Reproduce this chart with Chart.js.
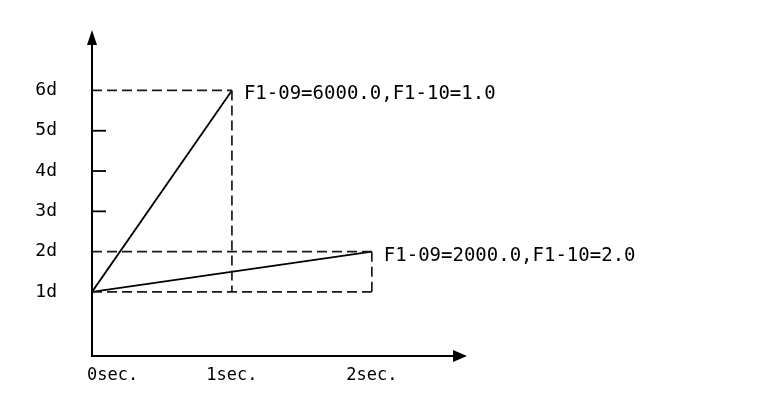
<!DOCTYPE html>
<html lang="en">
<head>
  <meta charset="UTF-8" />
  <title>F1-09 / F1-10</title>
  <script src="https://cdn.jsdelivr.net/npm/chart.js@4"></script>
  <style>
    html, body { margin: 0; padding: 0; background: #fff; }
    #wrap { width: 770px; height: 401px; }
  </style>
</head>
<body>
  <div id="wrap"><canvas id="chart" width="770" height="401"></canvas></div>

  <script>
    // axes: time in sec., output in multiples of d
    const xTicks = [0, 1, 2];
    const xTickLabels = ['0sec.', '1sec.', '2sec.'];
    const yTicks = [1, 2, 3, 4, 5, 6];
    const yTickLabels = ['1d', '2d', '3d', '4d', '5d', '6d'];

    // the two curves (start, end)
    const curve1Time = [0, 1];
    const curve1Value = [1, 6];
    const curve2Time = [0, 2];
    const curve2Value = [1, 2];
    const curveNotes = ['F1-09=6000.0,F1-10=1.0', 'F1-09=2000.0,F1-10=2.0'];

    const FONT = '"DejaVu Sans Mono", "Liberation Mono", monospace';

    const toPoints = (ts, vs) => ts.map((t, i) => ({ x: t, y: vs[i] }));
    const curves = [toPoints(curve1Time, curve1Value), toPoints(curve2Time, curve2Value)];
    const baseValue = curve1Value[0];

    // dashed helper lines from each end point back to the axes / base level
    const guides = [];
    const guideValues = [baseValue];
    curves.forEach(c => {
      const end = c[c.length - 1];
      guides.push([{ x: 0, y: end.y }, { x: end.x, y: end.y }]);
      guides.push([{ x: end.x, y: end.y }, { x: end.x, y: baseValue }]);
      guideValues.push(end.y);
    });
    guides.push([{ x: 0, y: baseValue }, { x: Math.max(...curve2Time), y: baseValue }]);

    const datasets = [];
    guides.forEach(g => datasets.push({
      data: g, showLine: true, borderColor: '#1a1a1a', borderWidth: 1.7,
      borderDash: [10, 5], pointRadius: 0
    }));
    curves.forEach(c => datasets.push({
      data: c, showLine: true, borderColor: '#000', borderWidth: 1.8, pointRadius: 0
    }));

    const axisPlugin = {
      id: 'axisPlugin',
      afterDatasetsDraw(chart) {
        const { ctx, chartArea: a, scales: { x, y } } = chart;
        ctx.save();
        ctx.strokeStyle = '#000';
        ctx.fillStyle = '#000';

        // axis lines with arrow heads
        ctx.lineWidth = 2;
        ctx.beginPath();
        ctx.moveTo(a.left, a.top + 10);
        ctx.lineTo(a.left, a.bottom);
        ctx.lineTo(a.right - 10, a.bottom);
        ctx.stroke();
        ctx.beginPath();
        ctx.moveTo(a.left, a.top);
        ctx.lineTo(a.left - 5, a.top + 15);
        ctx.lineTo(a.left + 5, a.top + 15);
        ctx.closePath();
        ctx.fill();
        ctx.beginPath();
        ctx.moveTo(a.right, a.bottom);
        ctx.lineTo(a.right - 14, a.bottom - 6);
        ctx.lineTo(a.right - 14, a.bottom + 6);
        ctx.closePath();
        ctx.fill();

        // short marks on the y axis where there is no guide line
        ctx.lineWidth = 1.8;
        yTicks.filter(v => !guideValues.includes(v)).forEach(v => {
          const py = y.getPixelForValue(v);
          ctx.beginPath();
          ctx.moveTo(a.left, py);
          ctx.lineTo(a.left + 14, py);
          ctx.stroke();
        });

        // x labels (the first one sits right of the y axis)
        ctx.font = '17px ' + FONT;
        ctx.textBaseline = 'middle';
        xTicks.forEach((v, i) => {
          const px = x.getPixelForValue(v);
          ctx.textAlign = i === 0 ? 'left' : 'center';
          ctx.fillText(xTickLabels[i], i === 0 ? px - 5 : px, a.bottom + 20);
        });

        // notes at the curve ends
        ctx.font = '19px ' + FONT;
        ctx.textAlign = 'left';
        curves.forEach((c, i) => {
          const end = c[c.length - 1];
          ctx.fillText(curveNotes[i], x.getPixelForValue(end.x) + 12, y.getPixelForValue(end.y) + 4);
        });
        ctx.restore();
      }
    };

    const chart = new Chart(document.getElementById('chart'), {
      type: 'scatter',
      data: { datasets },
      options: {
        responsive: false,
        animation: false,
        layout: { padding: { top: 30, right: 303, left: 0, bottom: 0 } },
        plugins: { legend: { display: false }, tooltip: { enabled: false } },
        scales: {
          x: {
            type: 'linear', min: 0, max: 2.68,
            afterFit: s => { s.height = 45; s.paddingLeft = 0; s.paddingRight = 0; },
            afterBuildTicks: s => { s.ticks = xTicks.map(v => ({ value: v })); },
            ticks: { display: false },
            grid: { display: false },
            border: { display: false }
          },
          y: {
            type: 'linear', min: -0.59, max: 7.5,
            afterFit: s => { s.width = 92; s.paddingTop = 0; s.paddingBottom = 0; },
            afterBuildTicks: s => { s.ticks = yTicks.map(v => ({ value: v })); },
            ticks: {
              padding: 35,
              color: '#000',
              font: { family: FONT, size: 18 },
              callback: (v, i) => yTickLabels[i]
            },
            grid: { display: false, drawTicks: false },
            border: { display: false }
          }
        }
      },
      plugins: [axisPlugin]
    });
  </script>
</body>
</html>
